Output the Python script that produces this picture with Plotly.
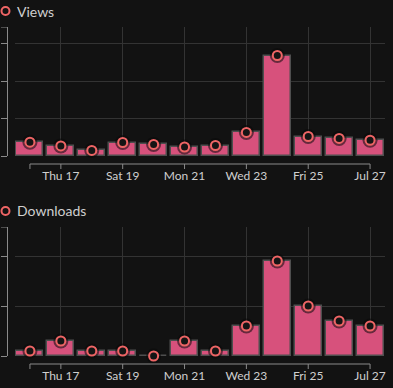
import plotly.graph_objects as go
from datetime import datetime, timedelta

# ---- data ----
dates = ["2025-07-16", "2025-07-17", "2025-07-18", "2025-07-19", "2025-07-20", "2025-07-21",
         "2025-07-22", "2025-07-23", "2025-07-24", "2025-07-25", "2025-07-26", "2025-07-27"]
views = [37, 27, 15, 36, 31, 24, 28, 63, 268, 52, 47, 42]
downloads = [1, 3, 1, 1, 0, 3, 1, 6, 19, 10, 7, 6]
tick_vals = ["2025-07-17", "2025-07-19", "2025-07-21", "2025-07-23", "2025-07-25", "2025-07-27"]
tick_text = ["Thu 17", "Sat 19", "Mon 21", "Wed 23", "Fri 25", "Jul 27"]
views_ticks = [0, 100, 200, 300]
downloads_ticks = [0, 10, 20]
views_max = 344
downloads_max = 25.8
titles = ["Views", "Downloads"]

W, H = 393, 388
BG = "#121212"
BAR = "#d7517c"
BAR_LINE = "#4e4e4e"
MARK = "#ee6565"
GRID = "#333333"
AXIS = "#8a8a8a"
TXT = "#cfcfcf"
FONT = "Lato"

def py(p):  # pixel y -> paper
    return 1 - p / H

def px(p):
    return p / W

d0 = datetime.fromisoformat(dates[0])
d1 = datetime.fromisoformat(dates[-1])
xr = [d0 - timedelta(hours=11.6), d1 + timedelta(hours=11.6)]
bar_w = 0.87 * 86400000

fig = go.Figure()

panels = [
    dict(vals=views, ticks=views_ticks, ymax=views_max, top=27, bottom=156, axis=164, title_y=11),
    dict(vals=downloads, ticks=downloads_ticks, ymax=downloads_max, top=227, bottom=356, axis=364, title_y=211),
]

shapes = []
annotations = []
for i, p in enumerate(panels):
    n = "" if i == 0 else str(i + 1)
    xa, ya = "x" + n, "y" + n
    fig.add_trace(go.Bar(x=dates, y=p["vals"], width=bar_w, xaxis=xa, yaxis=ya,
                         marker=dict(color=BAR, line=dict(color=BAR_LINE, width=1.5)),
                         hoverinfo="skip", showlegend=False))
    fig.add_trace(go.Scatter(x=dates, y=p["vals"], mode="markers", xaxis=xa, yaxis=ya,
                             marker=dict(size=15, color="rgba(10,10,10,0.55)", line=dict(width=0)),
                             hoverinfo="skip", showlegend=False, cliponaxis=False))
    fig.add_trace(go.Scatter(x=dates, y=p["vals"], mode="markers", xaxis=xa, yaxis=ya,
                             marker=dict(size=9, color="#151515", line=dict(color=MARK, width=2)),
                             hoverinfo="skip", showlegend=False, cliponaxis=False))
    dom = [py(p["bottom"]), py(p["top"])]
    fig.update_layout(**{
        ("xaxis" + n): dict(domain=[px(15), px(385)], range=xr, type="date", anchor="free",
                            position=py(p["axis"]), tickvals=tick_vals, ticktext=tick_text,
                            ticks="outside", ticklen=1, tickcolor="rgba(0,0,0,0)", tickwidth=1,
                            showgrid=True, gridcolor=GRID, gridwidth=1, showline=False,
                            zeroline=False, tickfont=dict(family=FONT, size=12, color=TXT),
                            fixedrange=True),
        ("yaxis" + n): dict(domain=dom, range=[0, p["ymax"]], anchor="free", position=px(7),
                            tickvals=p["ticks"], ticks="outside", ticklen=6, tickcolor=AXIS,
                            showticklabels=False, showgrid=True, gridcolor=GRID, gridwidth=1,
                            showline=True, linecolor=AXIS, linewidth=1, zeroline=False,
                            fixedrange=True),
    })
    # x domain path (range frame)
    shapes.append(dict(type="line", xref=xa, yref="paper", x0=dates[0], x1=dates[-1],
                       y0=py(p["axis"]), y1=py(p["axis"]), line=dict(color=AXIS, width=1)))
    for tv in [dates[0]] + tick_vals:
        shapes.append(dict(type="line", xref=xa, yref="paper", x0=tv, x1=tv,
                           y0=py(p["axis"]), y1=py(p["axis"] + 5), line=dict(color=AXIS, width=1)))
    # top outer tick of y domain
    shapes.append(dict(type="line", xref="paper", yref=ya, x0=px(1), x1=px(7),
                       y0=p["ymax"], y1=p["ymax"], line=dict(color=AXIS, width=1)))
    # title marker + text
    ty = p["title_y"]
    shapes.append(dict(type="circle", xref="paper", yref="paper",
                       x0=px(1.5), x1=px(9.5), y0=py(ty + 4), y1=py(ty - 4),
                       line=dict(color=MARK, width=2), fillcolor="rgba(0,0,0,0)"))
    annotations.append(dict(text=titles[i], xref="paper", yref="paper", x=px(15), y=py(ty),
                            xanchor="left", yanchor="middle", showarrow=False,
                            font=dict(family=FONT, size=14, color=TXT)))

fig.update_layout(width=W, height=H, margin=dict(l=0, r=0, t=0, b=0, autoexpand=False),
                  paper_bgcolor=BG, plot_bgcolor=BG, shapes=shapes, annotations=annotations,
                  bargap=0, showlegend=False)
fig.write_html("out.html", config={"displayModeBar": False},
               post_script="document.body.style.margin='0';document.body.style.background='#121212';")
